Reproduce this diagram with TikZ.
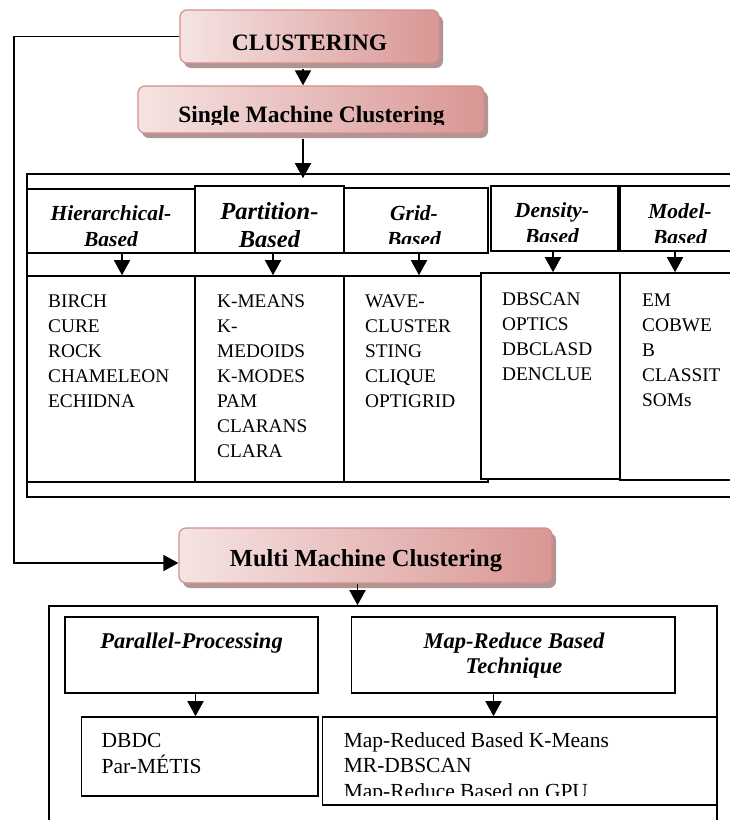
\documentclass[tikz,border=0pt]{standalone}
\usepackage{fontspec}
\setmainfont{Liberation Serif}
\usetikzlibrary{arrows.meta,shadows}
\definecolor{pinkL}{HTML}{F5E4E3}
\definecolor{pinkM}{HTML}{EDCDCC}
\definecolor{pinkD}{HTML}{D99694}
\definecolor{pinkB}{HTML}{D28F8D}
\definecolor{shadowC}{HTML}{B29494}
\begin{document}
\begin{tikzpicture}[x=1pt,y=-1pt,
  box/.style={draw, line width=1.6pt, fill=white, inner sep=0pt},
  pinkbox/.style={draw=pinkB, line width=1.2pt, rounded corners=7pt, inner sep=0pt,
    left color=pinkL, middle color=pinkM, right color=pinkD,
    drop shadow={shadow xshift=4pt, shadow yshift=-5pt, fill=shadowC, opacity=1}},
  arr/.style={line width=1.6pt, -{Triangle[width=16pt,length=15pt]}},
  ttl/.style={anchor=base, inner sep=0pt, font=\fontsize{23.5}{28}\selectfont\bfseries},
  hdr/.style={anchor=base, inner sep=0pt, font=\fontsize{21.5}{26}\selectfont\bfseries\itshape},
  lst/.style={anchor=base west, inner sep=0pt, font=\fontsize{19.3}{25}\selectfont},
  lstb/.style={anchor=base west, inner sep=0pt, font=\fontsize{21.5}{25.5}\selectfont}]
\useasboundingbox (0,0) rectangle (730,820);

% title boxes
\node[pinkbox, minimum width=259pt, minimum height=53pt] (clus) at (309.5,36.5) {};
\node[ttl] (clusT) at (309.5,50) {CLUSTERING};
\node[pinkbox, minimum width=346pt, minimum height=47pt] (single) at (311,109.5) {};
\begin{scope}
\clip (130,80) rectangle (490,124);
\node[ttl] (singleT) at (311.5,122) {Single Machine Clustering};
\end{scope}
\node[pinkbox, minimum width=373pt, minimum height=55pt] (multi) at (365.5,555.5) {};
\node[ttl, font=\fontsize{24.5}{28}\selectfont\bfseries] (multiT) at (366,566) {Multi Machine Clustering};

% single machine section
\node[box, minimum width=706pt, minimum height=323pt] (outerS) at (380,335.5) {};
\node[box, minimum width=168pt, minimum height=64pt] (hh) at (111,221) {};
\node[box, minimum width=149pt, minimum height=67pt] (ph) at (269.5,219.5) {};
\node[box, minimum width=144pt, minimum height=65pt] (gh) at (416,220.5) {};
\node[box, minimum width=127pt, minimum height=65pt] (dh) at (554.5,218.5) {};
\node[box, minimum width=113pt, minimum height=65pt] (mh) at (676.5,218.5) {};
\node[box, minimum width=168pt, minimum height=206pt] (hb) at (111,379) {};
\node[box, minimum width=149pt, minimum height=206pt] (pb) at (269.5,379) {};
\node[box, minimum width=144pt, minimum height=206pt] (gb) at (416,379) {};
\node[box, minimum width=139pt, minimum height=206pt] (db) at (550.5,376) {};
\node[box, minimum width=113pt, minimum height=207pt] (mb) at (676.5,376.5) {};

\begin{scope}\clip (28,190) rectangle (194,246);
\node[hdr] (hhT) at (111,220) {\begin{tabular}[t]{@{}c@{}}Hierarchical-\\Based\end{tabular}};
\end{scope}
\begin{scope}\clip (196,187) rectangle (343,246);
\node[hdr, font=\fontsize{24.5}{28}\selectfont\bfseries\itshape] (phT) at (269.5,219) {\begin{tabular}[t]{@{}c@{}}Partition-\\Based\end{tabular}};
\end{scope}
\begin{scope}\clip (345,189) rectangle (487,243.5);
\node[hdr] (ghT) at (414,220) {\begin{tabular}[t]{@{}c@{}}Grid-\\Based\end{tabular}};
\end{scope}
\begin{scope}\clip (492,187) rectangle (617,241.5);
\node[hdr] (dhT) at (552,217) {\begin{tabular}[t]{@{}c@{}}Density-\\Based\end{tabular}};
\end{scope}
\begin{scope}\clip (621,187) rectangle (730,242.5);
\node[hdr] (mhT) at (680,218) {\begin{tabular}[t]{@{}c@{}}Model-\\Based\end{tabular}};
\end{scope}

\node[lst] (hbT) at (48,307) {\begin{tabular}[t]{@{}l@{}}BIRCH\\CURE\\ROCK\\CHAMELEON\\ECHIDNA\end{tabular}};
\node[lst] (pbT) at (217,307) {\begin{tabular}[t]{@{}l@{}}K-MEANS\\K-\\MEDOIDS\\K-MODES\\PAM\\CLARANS\\CLARA\end{tabular}};
\node[lst] (gbT) at (365,307) {\begin{tabular}[t]{@{}l@{}}WAVE-\\CLUSTER\\STING\\CLIQUE\\OPTIGRID\end{tabular}};
\node[lst] (dbT) at (502,305) {\begin{tabular}[t]{@{}l@{}}DBSCAN\\OPTICS\\DBCLASD\\DENCLUE\end{tabular}};
\node[lst] (mbT) at (642,306) {\begin{tabular}[t]{@{}l@{}}EM\\COBWE\\B\\CLASSIT\\SOMs\end{tabular}};

% multi machine section
\node[box, minimum width=668pt, minimum height=224pt] (outerM) at (383,718) {};
\node[box, minimum width=253pt, minimum height=76pt] (pp) at (191.5,655) {};
\node[box, minimum width=323.5pt, minimum height=76pt] (mr) at (513.25,655) {};
\node[box, minimum width=236.5pt, minimum height=79pt] (ppl) at (199.75,756.5) {};
\node[box, minimum width=394.4pt, minimum height=88pt] (mrl) at (519.8,761) {};

\node[hdr, font=\fontsize{22.5}{25}\selectfont\bfseries\itshape] (ppT) at (191.5,648) {Parallel-Processing};
\node[hdr, font=\fontsize{22.5}{25}\selectfont\bfseries\itshape] (mrT) at (514,648) {\begin{tabular}[t]{@{}c@{}}Map-Reduce Based\\Technique\end{tabular}};
\node[lstb] (pplT) at (101.5,747) {\begin{tabular}[t]{@{}l@{}}DBDC\\Par-MÉTIS\end{tabular}};
\begin{scope}\clip (324,718) rectangle (716,795);
\node[lstb] (mrlT) at (343.6,747) {\begin{tabular}[t]{@{}l@{}}Map-Reduced Based K-Means\\MR-DBSCAN\\Map-Reduce Based on GPU\end{tabular}};
\end{scope}

% connectors
\coordinate (lc) at (14,36.5);
\draw[arr] (clus.west) -- (lc) |- ([yshift=-7.5pt]multi.west);
\draw[arr] ([xshift=-6.5pt,yshift=-5pt]clus.south) -- ([xshift=-8pt]single.north);
\draw[arr] ([xshift=-8pt,yshift=-5pt]single.south) -- ([xshift=-8pt,yshift=-5pt]single.south |- outerS.north);
\draw[arr] ([xshift=11pt]hh.south) -- ([xshift=11pt]hh.south |- hb.north);
\draw[arr] ([xshift=3.5pt]ph.south) -- ([xshift=3.5pt]ph.south |- pb.north);
\draw[arr] ([xshift=3pt]gh.south) -- ([xshift=3pt]gh.south |- gb.north);
\draw[arr] ([xshift=-1.5pt]dh.south) -- ([xshift=-1.5pt]dh.south |- db.north);
\draw[arr] ([xshift=-1.5pt]mh.south) -- ([xshift=-1.5pt]mh.south |- mb.north);
\draw[arr] ([xshift=-8pt]multi.south) -- ([xshift=-8pt]multi.south |- outerM.north);
\draw[arr] ([xshift=4pt]pp.south) -- ([xshift=4pt]pp.south |- ppl.north);
\draw[arr] ([xshift=-19.75pt]mr.south) -- ([xshift=-19.75pt]mr.south |- mrl.north);
\end{tikzpicture}
\end{document}
